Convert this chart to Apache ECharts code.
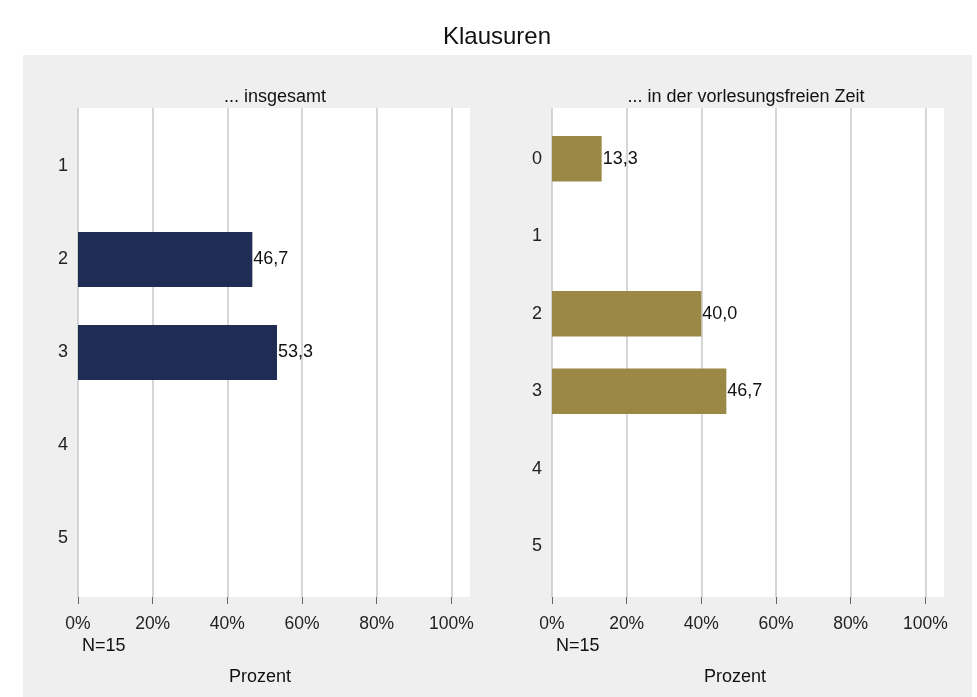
<!DOCTYPE html>
<html>
<head>
<meta charset="utf-8">
<script src="https://cdn.jsdelivr.net/npm/echarts@6/dist/echarts.min.js"></script>
<style>
  html, body { margin: 0; padding: 0; background: #fff; }
  #chart { width: 977px; height: 697px; }
</style>
</head>
<body>
<div id="chart"></div>
<script>
// Werte (Prozent)
const catsLeft = ['1', '2', '3', '4', '5'];
const valsLeft = [0, 46.7, 53.3, 0, 0];
const catsRight = ['0', '1', '2', '3', '4', '5'];
const valsRight = [13.3, 0, 40.0, 46.7, 0, 0];
const xTicks = [0, 20, 40, 60, 80, 100];
const nText = 'N=15';

const font = 'Liberation Sans, Arial, sans-serif';
const chart = echarts.init(document.getElementById('chart'));

// zwei Panels: Grid mit sichtbarer x-Achse + Grid mit den Balken
const panels = [
  { left: 78, cats: catsLeft, vals: valsLeft, color: '#1f2d55' },
  { left: 552, cats: catsRight, vals: valsRight, color: '#9b8847' }
];
const plotW = 392;

const grids = [];
const xAxes = [];
const yAxes = [];
const series = [];

panels.forEach((p, i) => {
  const gA = i * 2, gB = i * 2 + 1;
  grids.push({ left: p.left, top: 108, width: plotW, height: 489, show: true, backgroundColor: '#fff', borderWidth: 0 });
  grids.push({ left: p.left, top: 120, width: plotW, height: 465 });

  xAxes.push({
    type: 'value', gridIndex: gA, min: 0, max: 105, interval: 20,
    axisLine: { show: false },
    axisTick: { show: true, length: 7, customValues: xTicks, lineStyle: { color: '#666', width: 1 } },
    axisLabel: { customValues: xTicks, formatter: v => v + '%', fontSize: 17.5, color: '#222', fontFamily: font, margin: 18 },
    splitLine: { show: true, lineStyle: { color: ['#c8c8c8', '#c8c8c8', '#c8c8c8', '#c8c8c8', '#c8c8c8', '#c8c8c8', '#fff'], width: 1.5 } }
  });
  xAxes.push({ type: 'value', gridIndex: gB, min: 0, max: 105, show: false });

  yAxes.push({ type: 'value', gridIndex: gA, show: false });
  yAxes.push({
    type: 'category', gridIndex: gB, data: p.cats, inverse: true,
    axisLine: { show: false }, axisTick: { show: false }, splitLine: { show: false },
    axisLabel: { fontSize: 18, color: '#222', fontFamily: font, margin: 10 }
  });

  series.push({
    type: 'bar', xAxisIndex: gB, yAxisIndex: gB, data: p.vals,
    barWidth: '59%',
    itemStyle: { color: p.color },
    label: {
      show: true, position: 'right', distance: 1,
      fontSize: 18, color: '#111', fontFamily: font,
      formatter: d => d.value ? d.value.toFixed(1).replace('.', ',') : ''
    },
    silent: true
  });
});

const option = {
  backgroundColor: '#fff',
  animation: false,
  title: [
    { text: 'Klausuren', left: 497, top: 25, padding: 0, textAlign: 'center',
      textStyle: { fontSize: 24, fontWeight: 'normal', color: '#111', fontFamily: font } },
    { text: '... insgesamt', left: 275, top: 88, padding: 0, textAlign: 'center',
      textStyle: { fontSize: 18, fontWeight: 'normal', color: '#111', fontFamily: font } },
    { text: '... in der vorlesungsfreien Zeit', left: 746, top: 88, padding: 0, textAlign: 'center',
      textStyle: { fontSize: 18, fontWeight: 'normal', color: '#111', fontFamily: font } }
  ],
  graphic: [
    { type: 'rect', z: -10, shape: { x: 23, y: 55, width: 949, height: 642 }, style: { fill: '#efefef' }, silent: true },
    { type: 'text', x: 82, y: 646, style: { text: nText, fontSize: 18, fill: '#111', fontFamily: font, verticalAlign: 'middle' } },
    { type: 'text', x: 556, y: 646, style: { text: nText, fontSize: 18, fill: '#111', fontFamily: font, verticalAlign: 'middle' } },
    { type: 'text', x: 260, y: 677, style: { text: 'Prozent', fontSize: 18, fill: '#111', fontFamily: font, align: 'center', verticalAlign: 'middle' } },
    { type: 'text', x: 735, y: 677, style: { text: 'Prozent', fontSize: 18, fill: '#111', fontFamily: font, align: 'center', verticalAlign: 'middle' } }
  ],
  grid: grids,
  xAxis: xAxes,
  yAxis: yAxes,
  series: series
};

chart.setOption(option);
</script>
</body>
</html>
